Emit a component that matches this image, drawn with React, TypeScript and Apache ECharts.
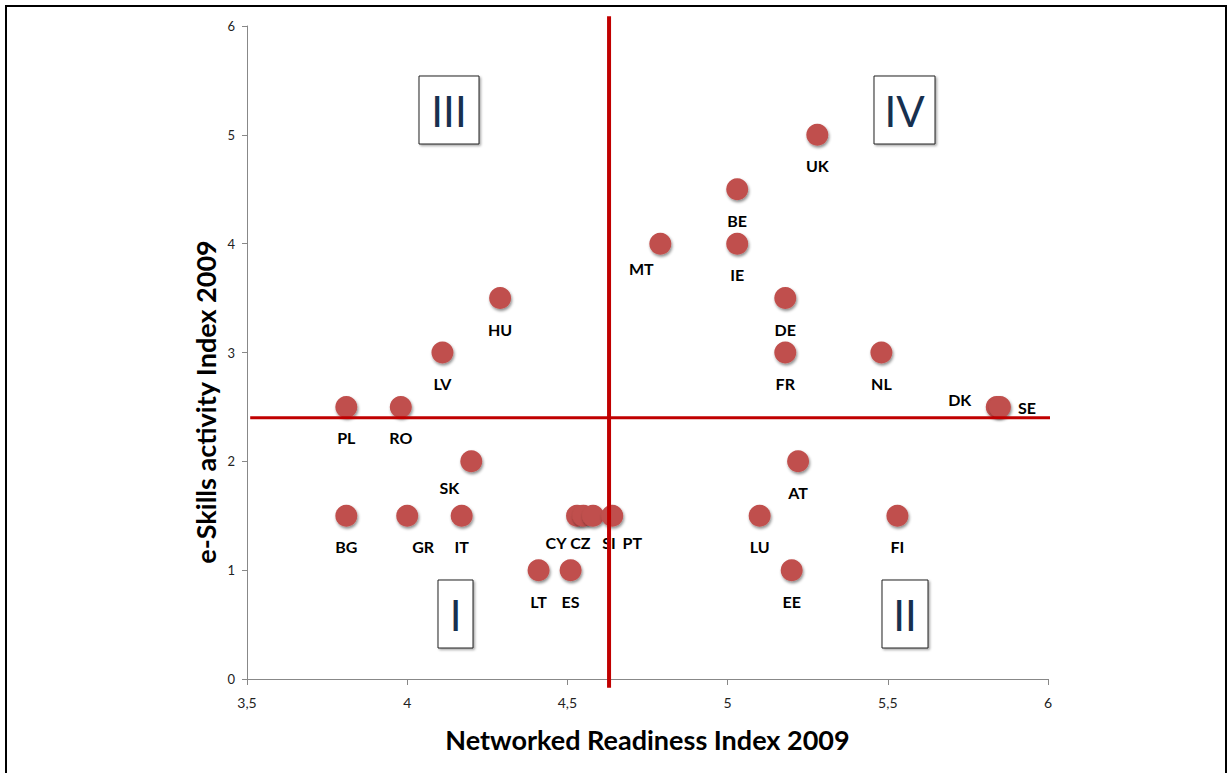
import React, { useEffect, useRef } from "react";
import * as echarts from "echarts";

const countries = ["UK", "BE", "IE", "MT", "DE", "FR", "NL", "DK", "SE", "HU", "LV", "PL", "RO", "SK", "AT", "BG", "GR", "IT", "CY", "CZ", "SI", "PT", "LT", "ES", "LU", "EE", "FI"];
const nriValues = [5.28, 5.03, 5.03, 4.79, 5.18, 5.18, 5.48, 5.84, 5.85, 4.29, 4.11, 3.81, 3.98, 4.2, 5.22, 3.81, 4.0, 4.17, 4.53, 4.55, 4.58, 4.64, 4.41, 4.51, 5.1, 5.2, 5.53];
const eSkillsValues = [5.0, 4.5, 4.0, 4.0, 3.5, 3.0, 3.0, 2.5, 2.5, 3.5, 3.0, 2.5, 2.5, 2.0, 2.0, 1.5, 1.5, 1.5, 1.5, 1.5, 1.5, 1.5, 1.0, 1.0, 1.5, 1.0, 1.5];
const xTicks = [3.5, 4, 4.5, 5, 5.5, 6];
const yTicks = [0, 1, 2, 3, 4, 5, 6];
const nriThreshold = 4.63;
const eSkillsThreshold = 2.4;
const quadrantNames = ["III", "IV", "I", "II"];
const xTitle = "Networked Readiness Index 2009";
const yTitle = "e-Skills activity Index 2009";

// label placement offsets (styling, in pixels relative to the point)
const labelOffsets: Record<string, [number, number]> = {
  MT: [-19, 25],
  DK: [-37, -7],
  SE: [27, 1],
  CY: [-21, 27],
  CZ: [-3, 27],
  SI: [16, 27],
  PT: [20, 27],
  SK: [-22, 26],
  GR: [16, 31],
};

const quadrantBoxes = [
  { x: 419, y: 76, w: 60, h: 68 },
  { x: 874, y: 76, w: 61, h: 68 },
  { x: 438, y: 580, w: 35, h: 68 },
  { x: 882, y: 580, w: 46, h: 68 },
];

export default function App() {
  const ref = useRef<HTMLDivElement>(null);
  useEffect(() => {
    if (!ref.current) return;
    const chart = echarts.init(ref.current, null, { renderer: "svg" });
    const font = "Lato, 'Open Sans', sans-serif";
    const data = countries.map((c, i) => {
      const off = labelOffsets[c] || [0, 31];
      return {
        name: c,
        value: [nriValues[i], eSkillsValues[i]],
        label: { offset: off },
      };
    });
    const graphics: any[] = [
      {
        type: "rect",
        shape: { x: 6, y: 6, width: 1220, height: 800 },
        style: { fill: "none", stroke: "#000", lineWidth: 2 },
        z: 100,
      },
      {
        type: "text",
        x: 205,
        y: 402,
        rotation: Math.PI / 2,
        style: {
          text: yTitle,
          font: `bold 27px ${font}`,
          fill: "#000",
          align: "center",
          verticalAlign: "middle",
        },
        z: 60,
      },
    ];
    quadrantBoxes.forEach((b, i) => {
      graphics.push({
        type: "rect",
        shape: { x: b.x, y: b.y, width: b.w, height: b.h },
        style: {
          fill: "#fff",
          stroke: "#222",
          lineWidth: 1,
          shadowColor: "rgba(0,0,0,0.35)",
          shadowBlur: 2,
          shadowOffsetX: 1.5,
          shadowOffsetY: 1.5,
        },
        z: 50,
      });
      graphics.push({
        type: "text",
        x: b.x + b.w / 2,
        y: b.y + b.h / 2 + 1,
        style: {
          text: quadrantNames[i],
          font: `400 42px ${font}`,
          fill: "#17304F",
          align: "center",
          verticalAlign: "middle",
        },
        z: 51,
      });
    });
    chart.setOption({
      animation: false,
      backgroundColor: "#fff",
      grid: { left: 247, right: 180, top: 26, bottom: 94 },
      xAxis: {
        type: "value",
        min: xTicks[0],
        max: xTicks[xTicks.length - 1],
        interval: 0.5,
        name: xTitle,
        nameLocation: "middle",
        nameGap: 47,
        nameTextStyle: { fontFamily: font, fontWeight: "bold", fontSize: 27, color: "#000" },
        axisLine: { show: true, lineStyle: { color: "#888", width: 1 } },
        axisTick: { show: true, length: 6, lineStyle: { color: "#888" } },
        axisLabel: {
          color: "#222",
          fontFamily: font,
          fontSize: 14,
          margin: 16,
          formatter: (v: number) => String(v).replace(".", ","),
        },
        splitLine: { show: false },
      },
      yAxis: {
        type: "value",
        min: yTicks[0],
        max: yTicks[yTicks.length - 1],
        interval: 1,
        axisLine: { show: true, lineStyle: { color: "#888", width: 1 } },
        axisTick: { show: true, length: 5, inside: false, lineStyle: { color: "#888" } },
        axisLabel: { color: "#222", fontFamily: font, fontSize: 13, margin: 12 },
        splitLine: { show: false },
      },
      graphic: graphics,
      series: [
        {
          type: "line",
          data: [
            [nriThreshold, -0.08],
            [nriThreshold, 6.09],
          ],
          symbol: "none",
          clip: false,
          lineStyle: { color: "#C00000", width: 4 },
          z: 3,
          silent: true,
        },
        {
          type: "line",
          data: [
            [3.51, eSkillsThreshold],
            [6.02, eSkillsThreshold],
          ],
          symbol: "none",
          clip: false,
          lineStyle: { color: "#C00000", width: 3 },
          z: 3,
          silent: true,
        },
        {
          type: "scatter",
          data,
          symbol: "circle",
          symbolSize: 22,
          z: 2,
          itemStyle: {
            color: "#C0504D",
            opacity: 1,
            shadowColor: "rgba(0,0,0,0.45)",
            shadowBlur: 3,
            shadowOffsetX: 1,
            shadowOffsetY: 2,
          },
          label: {
            show: true,
            position: "inside",
            formatter: (p: any) => p.name,
            color: "#000",
            fontFamily: font,
            fontWeight: "bold",
            fontSize: 16,
          },
        },
      ],
    });
    return () => chart.dispose();
  }, []);
  return (
    <div
      ref={ref}
      style={{ position: "fixed", left: 0, top: 0, width: 1228, height: 773 }}
    />
  );
}
